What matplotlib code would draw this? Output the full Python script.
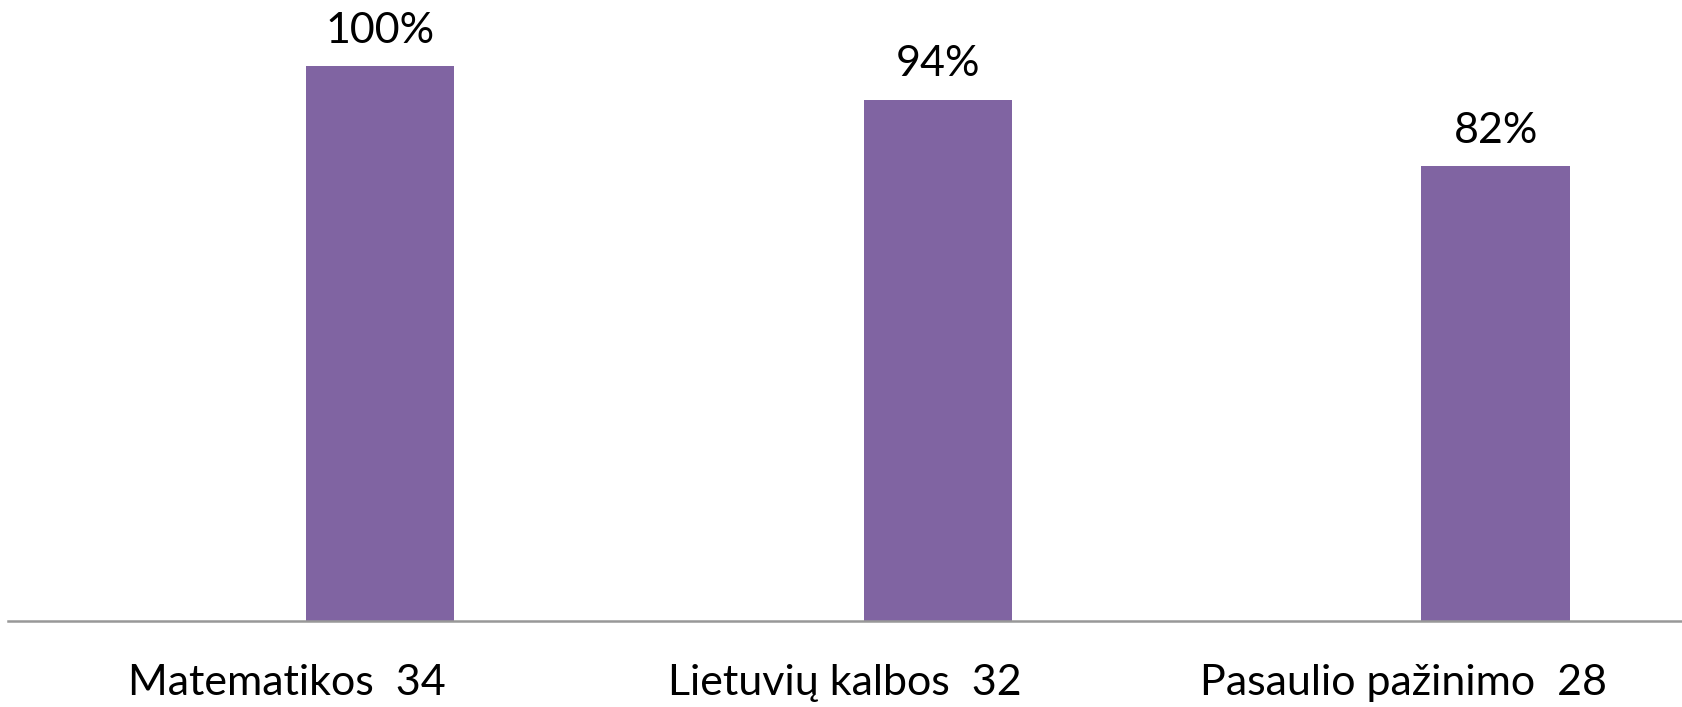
import matplotlib.pyplot as plt
import numpy as np

# dalykai ir rezultatai
categories = ['Matematikos  34', 'Lietuvių kalbos  32', 'Pasaulio pažinimo  28']
values = [100, 94, 82]
labels = ['100%', '94%', '82%']

plt.rcParams['font.family'] = ['Lato', 'DejaVu Sans']

fig = plt.figure(figsize=(16.82, 7.07), dpi=100)
ax = fig.add_axes([0.005, 0.1216, 0.995, 0.906 - 0.1216])

x = np.arange(len(categories))
offset = 0.166
bars = ax.bar(x + offset, values, width=0.266, color='#8064A2')

for b, lab in zip(bars, labels):
    ax.annotate(lab, (b.get_x() + b.get_width() / 2, b.get_height()),
                xytext=(0, 12), textcoords='offset points',
                ha='center', va='bottom', fontsize=31, color='black')

ax.set_xlim(-0.5, 2.5)
ax.set_ylim(0, 100)
ax.set_xticks(x)
ax.set_xticklabels(categories, fontsize=31)
ax.tick_params(axis='x', length=0, pad=31)
ax.set_yticks([])

for s in ['top', 'right', 'left']:
    ax.spines[s].set_visible(False)
ax.spines['bottom'].set_color('#989898')
ax.spines['bottom'].set_linewidth(1.8)

fig.savefig('out.png', dpi=100)
